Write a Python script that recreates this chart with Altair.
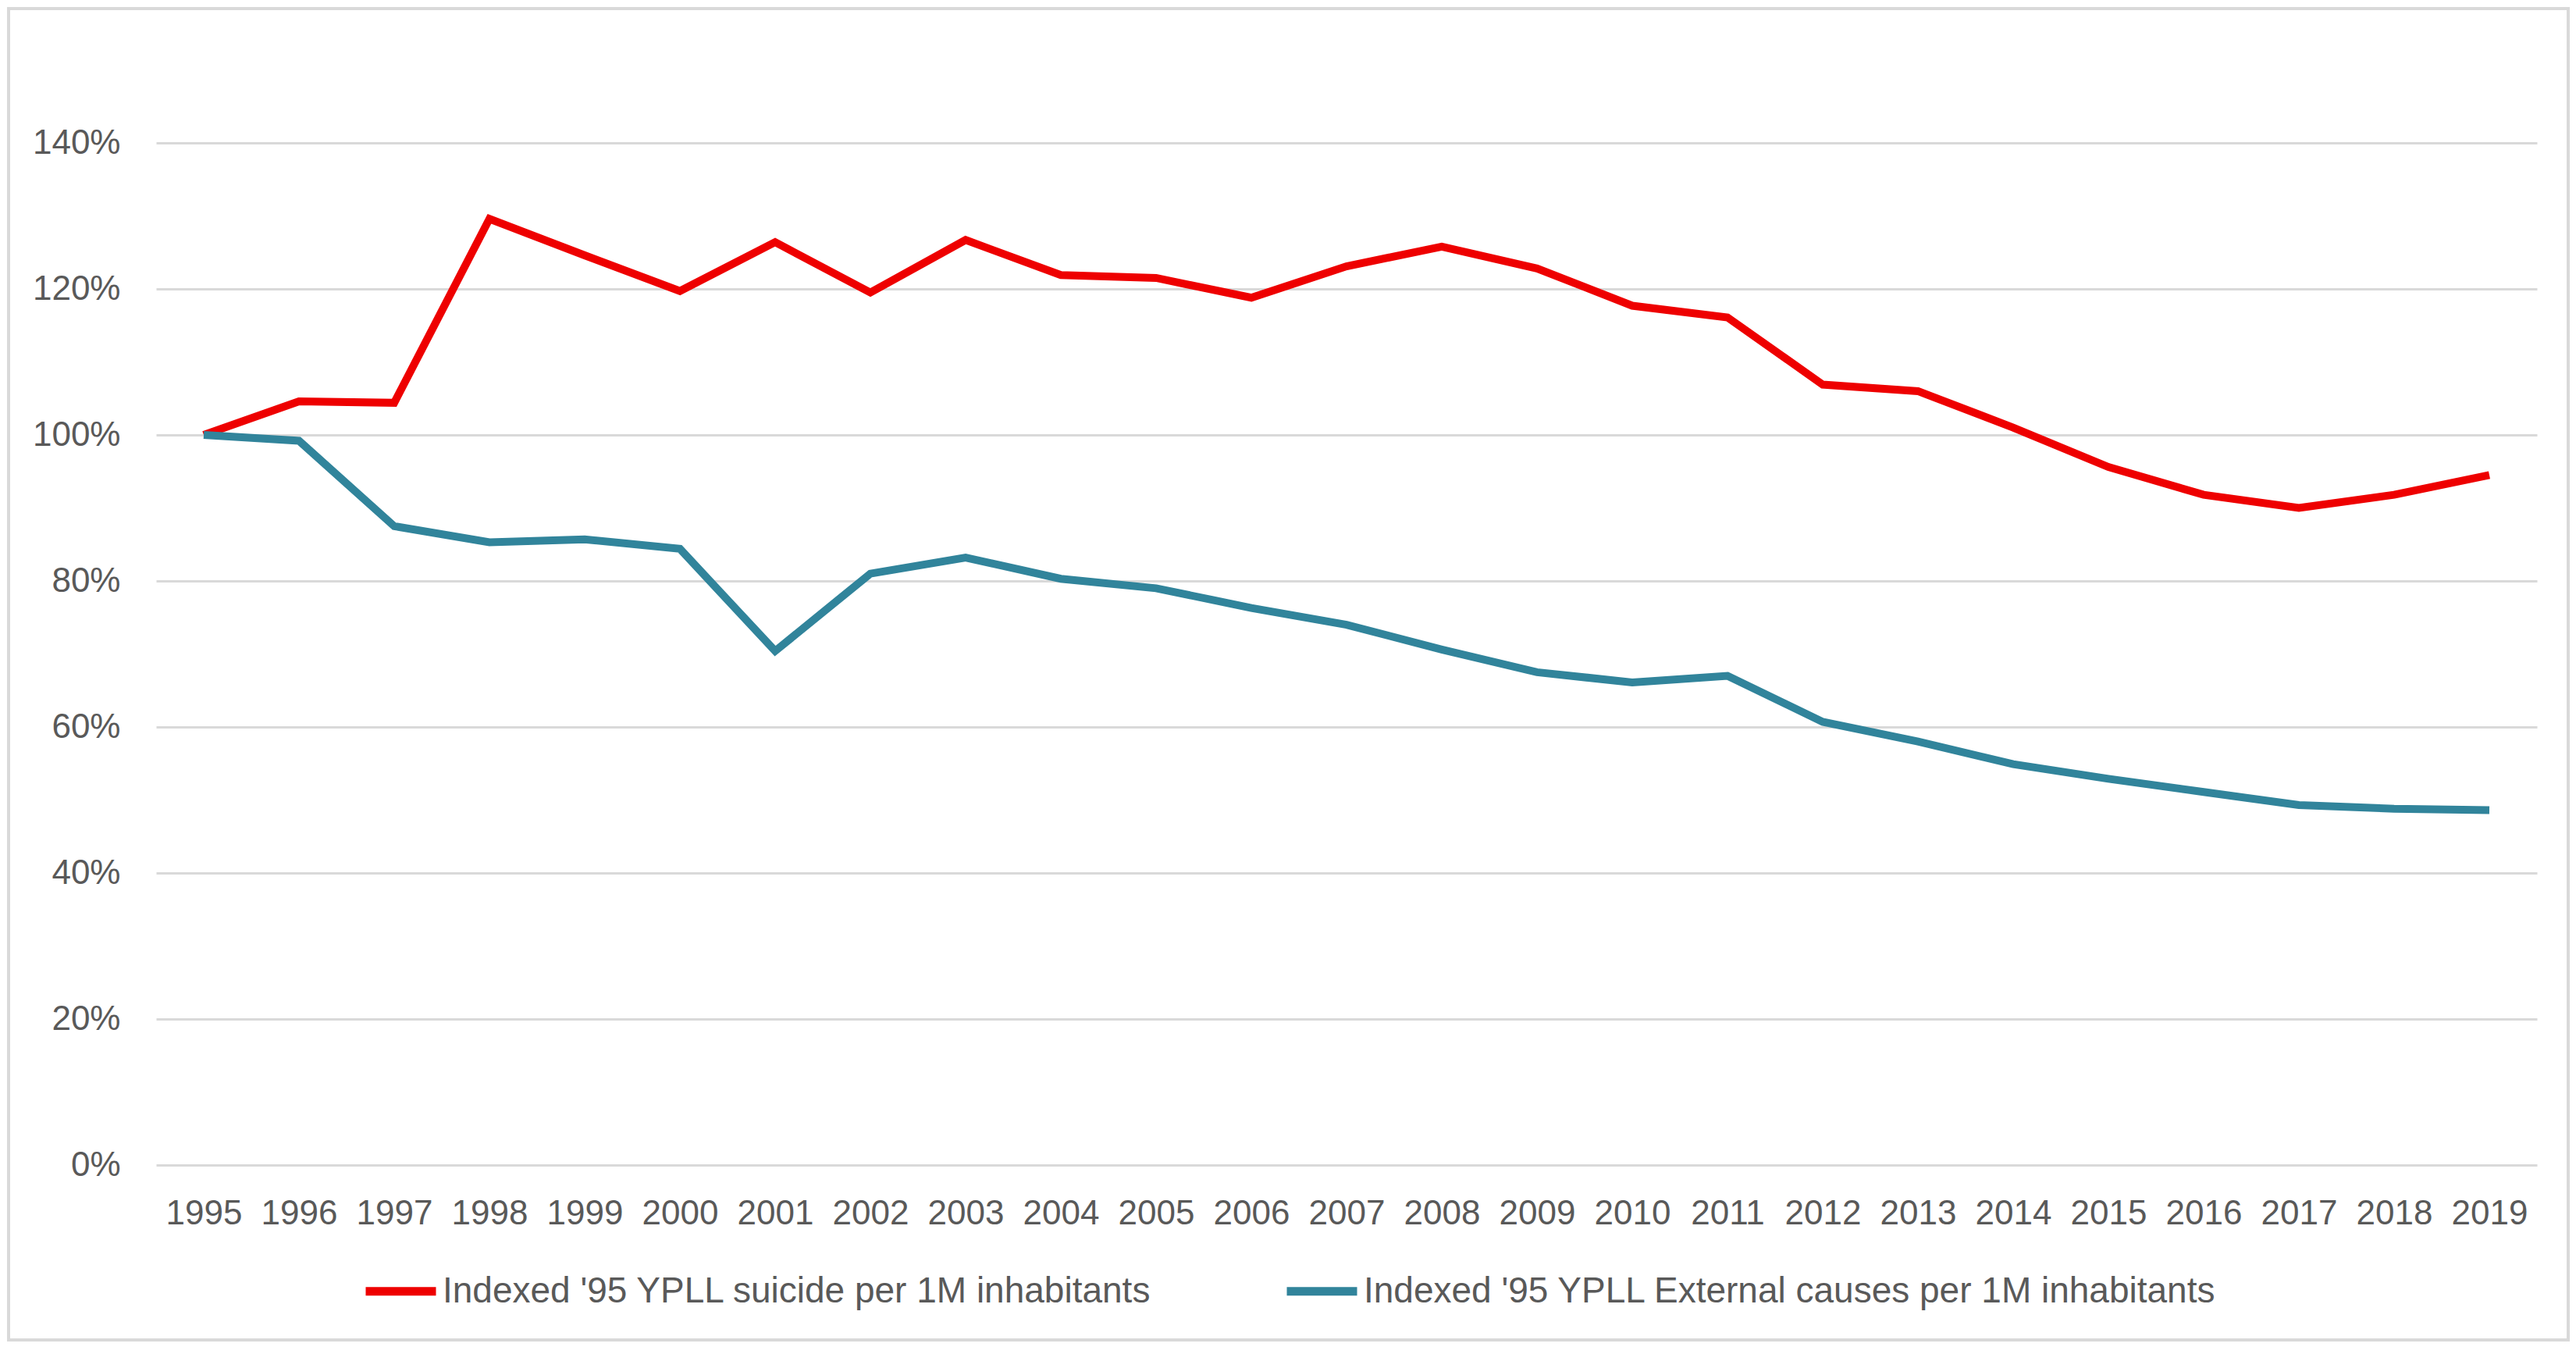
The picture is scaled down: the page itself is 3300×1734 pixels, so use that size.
import altair as alt
import pandas as pd

years = ["1995", "1996", "1997", "1998", "1999", "2000", "2001", "2002", "2003",
         "2004", "2005", "2006", "2007", "2008", "2009", "2010", "2011", "2012",
         "2013", "2014", "2015", "2016", "2017", "2018", "2019"]

series_suicide = "Indexed '95 YPLL suicide per 1M inhabitants"
series_external = "Indexed '95 YPLL External causes per 1M inhabitants"

suicide = [100.0, 104.6, 104.4, 129.6, 124.6, 119.7, 126.4, 119.5, 126.7, 121.9,
           121.5, 118.8, 123.1, 125.8, 122.8, 117.7, 116.1, 106.9, 106.0, 101.0,
           95.6, 91.8, 90.0, 91.8, 94.5]
external = [100.0, 99.2, 87.5, 85.3, 85.7, 84.4, 70.4, 81.0, 83.2, 80.3,
            79.0, 76.3, 74.0, 70.6, 67.5, 66.1, 67.0, 60.7, 58.0, 54.9,
            52.9, 51.1, 49.3, 48.8, 48.6]

y_ticks = [0, 20, 40, 60, 80, 100, 120, 140]

rows = []
for i, y in enumerate(years):
    rows.append({"year": y, "series": series_suicide, "value": suicide[i], "order": 0})
for i, y in enumerate(years):
    rows.append({"year": y, "series": series_external, "value": external[i], "order": 1})
df = pd.DataFrame(rows)

FONT = "Liberation Sans"
LABEL_COLOR = "#595959"
GRID = "#D9D9D9"

lines = alt.Chart(df).mark_line(strokeWidth=10).encode(
    x=alt.X("year:O", sort=years,
            scale=alt.Scale(type="point", padding=0.5),
            axis=alt.Axis(title=None, labelAngle=0, domain=False, ticks=False,
                          grid=False, labelPadding=40, labelFontSize=44,
                          labelFont=FONT, labelColor=LABEL_COLOR)),
    y=alt.Y("value:Q",
            scale=alt.Scale(domain=[0, 140], nice=False),
            axis=alt.Axis(title=None, values=y_ticks, labelExpr="datum.value + '%'",
                          domain=False, ticks=False, grid=True, gridColor=GRID,
                          gridWidth=3, labelPadding=46, labelFontSize=44,
                          labelFont=FONT, labelColor=LABEL_COLOR)),
    color=alt.Color("series:N",
                    scale=alt.Scale(domain=[series_suicide, series_external],
                                    range=["#EE0000", "#31849B"]),
                    legend=alt.Legend(title=None, orient="none", legendX=263,
                                      legendY=1420, direction="horizontal",
                                      symbolType="stroke", symbolSize=8100,
                                      symbolStrokeWidth=11, labelFontSize=46,
                                      labelFont=FONT, labelColor=LABEL_COLOR,
                                      columnPadding=150, labelOffset=3,
                                      labelLimit=0)),
    detail="series:N",
    order="order:Q",
)

border = alt.Chart(pd.DataFrame({"a": [0]})).mark_rect(
    fillOpacity=0, stroke=GRID, strokeWidth=4
).encode(
    x=alt.value(-189), x2=alt.value(3090),
    y=alt.value(-172), y2=alt.value(1533),
)

chart = alt.layer(border, lines).properties(
    width=3050, height=1309,
    autosize=alt.AutoSizeParams(type="none"),
    padding={"left": 192, "top": 175, "right": 42, "bottom": 234},
).configure_view(stroke=None)

chart.save("out.html", embed_options={"renderer": "svg", "actions": False})
